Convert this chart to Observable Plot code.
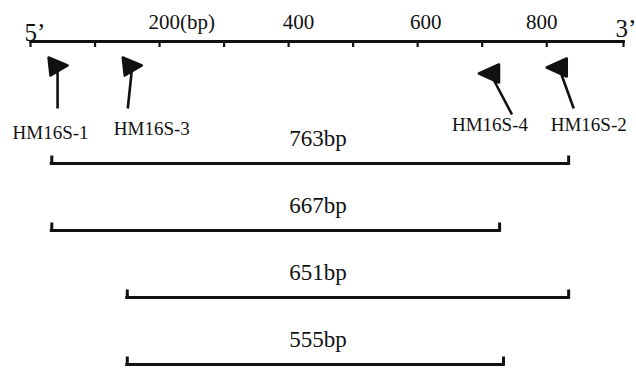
<!DOCTYPE html>
<html><head><meta charset="utf-8">
<script src="https://cdn.jsdelivr.net/npm/d3@7"></script>
<script src="https://cdn.jsdelivr.net/npm/@observablehq/plot@0.6"></script>
<style>
html,body{margin:0;padding:0;background:#fff;}
#chart svg{display:block;}
</style></head><body><div id="chart"></div>
<script>
// ---- data (bp positions) ----
const seqLength = 919;
const tickValues = [0, 100, 200, 300, 400, 500, 600, 700, 800, 919];
const tickLabelValues = [200, 400, 600, 800];
const tickLabels = ["200(bp)", "400", "600", "800"];
const endLabels = ["5’", "3’"];
const endValues = [0, 919];
const primerNames = ["HM16S-1", "HM16S-3", "HM16S-4", "HM16S-2"];
const primerPos = [28, 143, 726, 831];
const primerStrand = ["+", "+", "-", "-"];
const productLabels = ["763bp", "667bp", "651bp", "555bp"];
const productStart = [33, 33, 150, 150];
const productEnd = [834, 727, 834, 733];

// ---- build tables ----
const products = productLabels.map((label, i) => ({label, lane: i, start: productStart[i], end: productEnd[i]}));
const primers = primerNames.map((name, i) => ({name, pos: primerPos[i], strand: primerStrand[i]}));

const ink = "#111";
const serif = "Liberation Serif, Times New Roman, serif";

function flag(strand, lean) {
  return {
    draw(ctx) {
      if (strand === "+") {
        ctx.moveTo(0, -9); ctx.lineTo(19, -1); ctx.lineTo(2, 9); ctx.closePath();
        ctx.moveTo(9, 4); ctx.lineTo(9 + lean, 42);
      } else {
        ctx.moveTo(0, -9); ctx.lineTo(-20, 0); ctx.lineTo(0, 9); ctx.closePath();
        ctx.moveTo(-6, 5); ctx.lineTo(-6 + lean, 41);
      }
    }
  };
}

// styling per primer glyph / label
const glyphStyle = [
  {lean: 0, dy: 25, ldx: 2, ldy: 97},
  {lean: -4, dy: 25, ldx: 29, ldy: 93},
  {lean: 19, dy: 32, ldx: -9, ldy: 89},
  {lean: 13, dy: 26, ldx: 22, ldy: 89}
];
const labelDx = [-11, 10, 8, -5];

const marks = [
  Plot.frame({anchor: "top", stroke: ink, strokeWidth: 2.8}),
  Plot.axisX(tickValues, {anchor: "top", tickSize: -5, tickFormat: () => "", stroke: ink, strokeWidth: 2.2, label: null}),
  ...tickLabelValues.map((v, i) => Plot.text([v], {
    x: d => d, text: () => tickLabels[i], frameAnchor: "top", lineAnchor: "bottom",
    dy: -13, dx: labelDx[i], textAnchor: i === 0 ? "start" : "middle",
    fontSize: 21, fontFamily: serif, fill: ink
  })),
  Plot.text([0], {x: d => endValues[0], text: () => endLabels[0], frameAnchor: "top", lineAnchor: "bottom",
    dy: -1, dx: -6, textAnchor: "start", fontSize: 25, fontFamily: serif, fill: ink}),
  Plot.text([1], {x: d => endValues[1], text: () => endLabels[1], frameAnchor: "top", lineAnchor: "bottom",
    dy: -5, dx: -8, textAnchor: "start", fontSize: 25, fontFamily: serif, fill: ink}),
  ...primers.flatMap((p, i) => [
    Plot.dot([p], {x: "pos", frameAnchor: "top", dy: glyphStyle[i].dy, r: 10,
      symbol: flag(p.strand, glyphStyle[i].lean), fill: ink, stroke: ink, strokeWidth: 2.6, strokeLinejoin: "round"}),
    Plot.text([p], {x: "pos", text: "name", frameAnchor: "top", lineAnchor: "bottom",
      dy: glyphStyle[i].ldy, dx: glyphStyle[i].ldx, fontSize: 19, fontFamily: serif, fill: ink})
  ]),
  Plot.ruleY(products, {y: "lane", x1: "start", x2: "end", stroke: ink, strokeWidth: 3, strokeLinecap: "square"}),
  Plot.ruleX(products, {x: "start", y1: "lane", y2: "lane", insetTop: -6, stroke: ink, strokeWidth: 3, strokeLinecap: "square"}),
  Plot.ruleX(products, {x: "end", y1: "lane", y2: "lane", insetTop: -6, stroke: ink, strokeWidth: 3, strokeLinecap: "square"}),
  Plot.text(products, {y: "lane", text: "label", frameAnchor: "middle", dx: -9, dy: -18, lineAnchor: "bottom",
    fontSize: 23, fontFamily: serif, fill: ink})
];

const chart = Plot.plot({
  width: 636,
  height: 369,
  marginTop: 41,
  marginLeft: 30,
  marginRight: 13,
  marginBottom: 3,
  style: {fontFamily: serif, background: "#fff", color: ink},
  x: {domain: [0, seqLength], axis: null},
  y: {domain: [0, 3], range: [163, 364], axis: null},
  marks
});
document.getElementById("chart").appendChild(chart);
</script>
</body></html>
